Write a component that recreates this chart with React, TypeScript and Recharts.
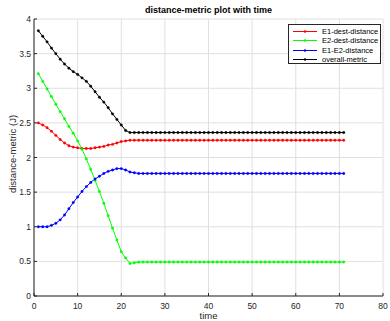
import React from 'react';
import { LineChart, Line, XAxis, YAxis, CartesianGrid } from 'recharts';

const TIME = [
    1, 2, 3, 4, 5, 6, 7, 8, 9, 10,
    11, 12, 13, 14, 15, 16, 17, 18, 19, 20,
    21, 22, 23, 24, 25, 26, 27, 28, 29, 30,
    31, 32, 33, 34, 35, 36, 37, 38, 39, 40,
    41, 42, 43, 44, 45, 46, 47, 48, 49, 50,
    51, 52, 53, 54, 55, 56, 57, 58, 59, 60,
    61, 62, 63, 64, 65, 66, 67, 68, 69, 70,
    71,
];

const E1_DEST = [
    2.5, 2.47, 2.43, 2.38, 2.32, 2.26, 2.21, 2.17, 2.15, 2.14,
    2.13, 2.13, 2.13, 2.14, 2.15, 2.16, 2.18, 2.19, 2.21, 2.23,
    2.24, 2.25, 2.25, 2.25, 2.25, 2.25, 2.25, 2.25, 2.25, 2.25,
    2.25, 2.25, 2.25, 2.25, 2.25, 2.25, 2.25, 2.25, 2.25, 2.25,
    2.25, 2.25, 2.25, 2.25, 2.25, 2.25, 2.25, 2.25, 2.25, 2.25,
    2.25, 2.25, 2.25, 2.25, 2.25, 2.25, 2.25, 2.25, 2.25, 2.25,
    2.25, 2.25, 2.25, 2.25, 2.25, 2.25, 2.25, 2.25, 2.25, 2.25,
    2.25,
];

const E2_DEST = [
    3.21, 3.1, 2.99, 2.88, 2.77, 2.66, 2.56, 2.45, 2.35, 2.24,
    2.12, 1.98, 1.83, 1.67, 1.51, 1.34, 1.16, 0.98, 0.81, 0.64,
    0.55, 0.47, 0.48, 0.49, 0.49, 0.49, 0.49, 0.49, 0.49, 0.49,
    0.49, 0.49, 0.49, 0.49, 0.49, 0.49, 0.49, 0.49, 0.49, 0.49,
    0.49, 0.49, 0.49, 0.49, 0.49, 0.49, 0.49, 0.49, 0.49, 0.49,
    0.49, 0.49, 0.49, 0.49, 0.49, 0.49, 0.49, 0.49, 0.49, 0.49,
    0.49, 0.49, 0.49, 0.49, 0.49, 0.49, 0.49, 0.49, 0.49, 0.49,
    0.49,
];

const E1_E2 = [
    1.0, 1.0, 1.0, 1.02, 1.05, 1.1, 1.17, 1.26, 1.35, 1.43,
    1.51, 1.58, 1.64, 1.69, 1.73, 1.77, 1.8, 1.82, 1.84, 1.84,
    1.82, 1.79, 1.78, 1.77, 1.77, 1.77, 1.77, 1.77, 1.77, 1.77,
    1.77, 1.77, 1.77, 1.77, 1.77, 1.77, 1.77, 1.77, 1.77, 1.77,
    1.77, 1.77, 1.77, 1.77, 1.77, 1.77, 1.77, 1.77, 1.77, 1.77,
    1.77, 1.77, 1.77, 1.77, 1.77, 1.77, 1.77, 1.77, 1.77, 1.77,
    1.77, 1.77, 1.77, 1.77, 1.77, 1.77, 1.77, 1.77, 1.77, 1.77,
    1.77,
];

const OVERALL = [
    3.83, 3.75, 3.67, 3.58, 3.5, 3.42, 3.35, 3.29, 3.24, 3.2,
    3.15, 3.1, 3.03, 2.95, 2.87, 2.8, 2.72, 2.63, 2.55, 2.47,
    2.39, 2.36, 2.36, 2.36, 2.36, 2.36, 2.36, 2.36, 2.36, 2.36,
    2.36, 2.36, 2.36, 2.36, 2.36, 2.36, 2.36, 2.36, 2.36, 2.36,
    2.36, 2.36, 2.36, 2.36, 2.36, 2.36, 2.36, 2.36, 2.36, 2.36,
    2.36, 2.36, 2.36, 2.36, 2.36, 2.36, 2.36, 2.36, 2.36, 2.36,
    2.36, 2.36, 2.36, 2.36, 2.36, 2.36, 2.36, 2.36, 2.36, 2.36,
    2.36,
];

const X_TICKS = [0, 10, 20, 30, 40, 50, 60, 70, 80];
const Y_TICKS = [0, 0.5, 1, 1.5, 2, 2.5, 3, 3.5, 4];

const SERIES = [
    { key: 'e1Dest', name: 'E1-dest-distance', color: '#ff0000', values: E1_DEST },
    { key: 'e2Dest', name: 'E2-dest-distance', color: '#00ff00', values: E2_DEST },
    { key: 'e1e2', name: 'E1-E2-distance', color: '#0000ff', values: E1_E2 },
    { key: 'overall', name: 'overall-metric', color: '#000000', values: OVERALL },
];

const data = TIME.map((t, i) => {
    const row: Record<string, number> = { t };
    SERIES.forEach(s => { row[s.key] = s.values[i]; });
    return row;
});

const FONT = '"Liberation Sans", Arial, Helvetica, sans-serif';
const AXIS = '#262626';

const App: React.FC = () => {
    return (
        <div style={{ position: 'absolute', left: 0, top: 0, width: 390, height: 321, background: '#fff', fontFamily: FONT }}>
            <LineChart width={390} height={321} data={data} margin={{ top: 19, right: 7, bottom: 0, left: 0 }}>
                <CartesianGrid stroke="#e0e0e0" xAxisId="b" yAxisId="l" />
                <XAxis
                    xAxisId="b"
                    dataKey="t"
                    type="number"
                    domain={[0, 80]}
                    ticks={X_TICKS}
                    height={25}
                    stroke={AXIS}
                    tickSize={-3}
                    tickMargin={10}
                    tick={{ fill: AXIS, fontSize: 8.5, fontFamily: FONT }}
                    allowDataOverflow
                />
                <XAxis
                    xAxisId="top"
                    orientation="top"
                    dataKey="t"
                    type="number"
                    domain={[0, 80]}
                    ticks={X_TICKS}
                    height={0}
                    stroke={AXIS}
                    tickSize={-3}
                    tick={false}
                />
                <YAxis
                    yAxisId="l"
                    type="number"
                    domain={[0, 4]}
                    ticks={Y_TICKS}
                    width={34}
                    stroke={AXIS}
                    tickSize={-3}
                    tickMargin={6}
                    tick={{ fill: AXIS, fontSize: 8.5, fontFamily: FONT }}
                />
                <YAxis
                    yAxisId="r"
                    orientation="right"
                    type="number"
                    domain={[0, 4]}
                    ticks={Y_TICKS}
                    width={0}
                    stroke={AXIS}
                    tickSize={-3}
                    tick={false}
                />
                {SERIES.map(s => (
                    <Line
                        key={s.key}
                        xAxisId="b"
                        yAxisId="l"
                        type="linear"
                        dataKey={s.key}
                        name={s.name}
                        stroke={s.color}
                        strokeWidth={1}
                        dot={{ r: 1.2, fill: s.color, stroke: s.color, strokeWidth: 0.4 }}
                        isAnimationActive={false}
                    />
                ))}
            </LineChart>

            {/* title */}
            <div style={{ position: 'absolute', left: 34, width: 349, top: 4, textAlign: 'center', fontSize: 9, fontWeight: 'bold', color: '#000', lineHeight: '12px' }}>
                distance-metric plot with time
            </div>

            {/* axis labels */}
            <div style={{ position: 'absolute', left: 34, width: 349, top: 310, textAlign: 'center', fontSize: 9.5, color: AXIS, lineHeight: '12px' }}>
                time
            </div>
            <div style={{ position: 'absolute', left: 12.5, top: 154, width: 0, height: 0 }}>
                <div style={{ position: 'absolute', left: 0, top: 0, transform: 'translate(-50%, -50%) rotate(-90deg)', whiteSpace: 'nowrap', fontSize: 9.5, color: AXIS, lineHeight: '12px' }}>
                    distance-metric (J)
                </div>
            </div>

            {/* legend */}
            <div style={{ position: 'absolute', left: 288, top: 24, width: 93, height: 40, background: '#fff', border: `1px solid ${AXIS}`, boxSizing: 'border-box', paddingTop: 2 }}>
                {SERIES.map(s => (
                    <div key={s.key} style={{ display: 'flex', alignItems: 'center', height: 9.3 }}>
                        <svg width={30} height={9} style={{ marginLeft: 3, flexShrink: 0 }}>
                            <line x1={1} y1={4.5} x2={25} y2={4.5} stroke={s.color} strokeWidth={1} />
                            <circle cx={13} cy={4.5} r={1.2} fill={s.color} />
                        </svg>
                        <span style={{ fontSize: 7.5, color: '#000', whiteSpace: 'nowrap', lineHeight: '9px' }}>{s.name}</span>
                    </div>
                ))}
            </div>
        </div>
    );
};

export default App;
